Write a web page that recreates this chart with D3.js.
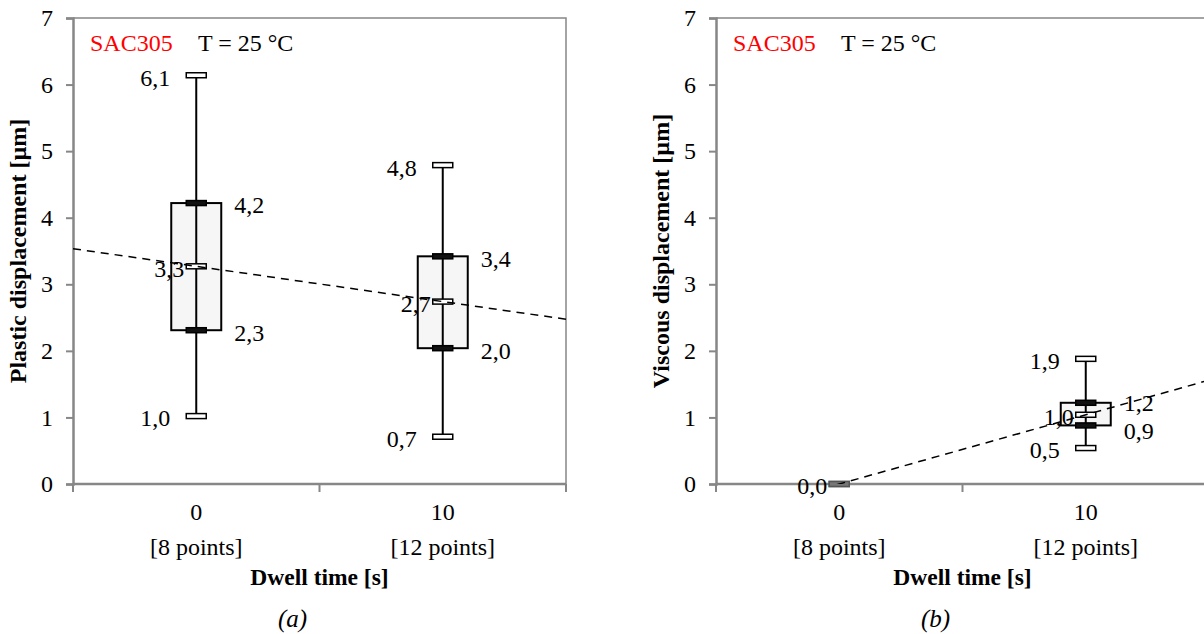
<!DOCTYPE html>
<html>
<head>
<meta charset="utf-8">
<script src="https://cdn.jsdelivr.net/npm/d3@7"></script>
<style>
  html, body { margin: 0; padding: 0; background: #fff; }
  svg { display: block; }
  text { font-family: "Liberation Serif", "Times New Roman", serif; }
</style>
</head>
<body>
<svg id="chart" width="1204" height="634"></svg>
<script>
// ---------- data ----------
const categories = ["0", "10"];               // dwell time [s]
const pointCounts = ["[8 points]", "[12 points]"];
const yTicks = [0, 1, 2, 3, 4, 5, 6, 7];

// (a) plastic displacement [µm]
const plasticMin    = [1.02, 0.71];
const plasticQ1     = [2.31, 2.04];
const plasticMedian = [3.27, 2.74];
const plasticQ3     = [4.22, 3.42];
const plasticMax    = [6.14, 4.79];

// (b) viscous displacement [µm]
const viscousMin    = [0.00, 0.54];
const viscousQ1     = [0.00, 0.88];
const viscousMedian = [0.00, 1.04];
const viscousQ3     = [0.00, 1.22];
const viscousMax    = [0.00, 1.88];

const panelTitles = ["Plastic displacement [µm]", "Viscous displacement [µm]"];
const panelCaptions = ["(a)", "(b)"];
const xTitle = "Dwell time [s]";
const materialLabel = "SAC305";
const tempLabel = "T = 25 °C";

// ---------- layout ----------
const svg = d3.select("#chart");
const plotW = 493, plotTop = 18, plotBottom = 484;
const panelX = [73, 716];
const axisGray = "#878787";
const fmt = v => d3.format(".1f")(v).replace(".", ",");

const panels = [
  { min: plasticMin, q1: plasticQ1, med: plasticMedian, q3: plasticQ3, max: plasticMax },
  { min: viscousMin, q1: viscousQ1, med: viscousMedian, q3: viscousQ3, max: viscousMax }
];

panels.forEach((p, pi) => {
  const x0 = panelX[pi];
  const x = d3.scaleBand().domain(categories).range([x0, x0 + plotW]).padding(0);
  const y = d3.scaleLinear().domain([0, 7]).range([plotBottom, plotTop]);
  const g = svg.append("g");
  const cid = "clip" + pi;

  svg.append("clipPath").attr("id", cid)
    .append("rect").attr("x", x0).attr("y", plotTop)
    .attr("width", plotW).attr("height", plotBottom - plotTop);

  // border (top, right)
  g.append("path")
    .attr("d", `M${x0},${plotTop}H${x0 + plotW}V${plotBottom}`)
    .attr("fill", "none").attr("stroke", axisGray).attr("stroke-width", 1.5);

  // y axis
  const yAxis = g.append("g").attr("transform", `translate(${x0},0)`)
    .call(d3.axisLeft(y).tickValues(yTicks).tickSize(7).tickPadding(13).tickFormat(d3.format("d")));
  yAxis.select(".domain").attr("stroke", axisGray).attr("stroke-width", 2.5);
  yAxis.selectAll(".tick line").attr("stroke", axisGray).attr("stroke-width", 2);
  yAxis.selectAll(".tick text").attr("font-size", 24).attr("fill", "#000")
    .attr("font-family", "Liberation Serif");

  // x axis line & ticks at category boundaries
  g.append("line").attr("x1", x0).attr("x2", x0 + plotW)
    .attr("y1", plotBottom).attr("y2", plotBottom)
    .attr("stroke", axisGray).attr("stroke-width", 2.5);
  const bounds = categories.map(c => x(c)).concat([x0 + plotW]);
  g.selectAll(".xt").data(bounds).join("line")
    .attr("x1", d => d).attr("x2", d => d)
    .attr("y1", plotBottom).attr("y2", plotBottom + 8)
    .attr("stroke", axisGray).attr("stroke-width", 2);

  const cx = c => x(c) + x.bandwidth() / 2;

  // x tick labels
  g.selectAll(".xl").data(categories).join("text")
    .attr("x", d => cx(d)).attr("y", 512).attr("dy", "0.35em")
    .attr("text-anchor", "middle").attr("font-size", 24).text(d => d);
  g.selectAll(".xl2").data(categories).join("text")
    .attr("x", d => cx(d)).attr("y", 547).attr("dy", "0.35em")
    .attr("text-anchor", "middle").attr("font-size", 24).text((d, i) => pointCounts[i]);

  // axis titles
  g.append("text").attr("x", x0 + plotW / 2).attr("y", 577).attr("dy", "0.35em")
    .attr("text-anchor", "middle").attr("font-size", 23.5).attr("font-weight", "bold").text(xTitle);
  g.append("text")
    .attr("transform", `translate(${x0 - 55},${(plotTop + plotBottom) / 2}) rotate(-90)`)
    .attr("dy", "0.35em").attr("text-anchor", "middle")
    .attr("font-size", 24).attr("font-weight", "bold").text(panelTitles[pi]);
  g.append("text").attr("x", x0 + plotW / 2 - 27).attr("y", 618).attr("dy", "0.35em")
    .attr("text-anchor", "middle").attr("font-size", 25).attr("font-style", "italic")
    .text(panelCaptions[pi]);

  // annotation
  g.append("text").attr("x", x0 + 17).attr("y", 43).attr("dy", "0.35em")
    .attr("font-size", 24).attr("fill", "#ff0000").text(materialLabel);
  g.append("text").attr("x", x0 + 125).attr("y", 43).attr("dy", "0.35em")
    .attr("font-size", 24).attr("fill", "#000").text(tempLabel);

  // trend line through medians (least squares on category index)
  const idx = categories.map((c, i) => i);
  const mx = d3.mean(idx), my = d3.mean(p.med);
  const slope = d3.sum(idx, i => (i - mx) * (p.med[i] - my)) / d3.sum(idx, i => (i - mx) ** 2);
  const icpt = my - slope * mx;
  const xi = d3.scaleLinear().domain([-0.5, categories.length - 0.5]).range([x0, x0 + plotW]);

  // boxes
  categories.forEach((c, i) => {
    const bx = cx(c), bw = 50, cw = 20;
    const bg = g.append("g");
    if (p.q3[i] > p.q1[i]) {
      bg.append("rect").attr("x", bx - bw / 2).attr("y", y(p.q3[i]))
        .attr("width", bw).attr("height", y(p.q1[i]) - y(p.q3[i]))
        .attr("fill", "#f6f6f6").attr("stroke", "#000").attr("stroke-width", 2);
    }
    bg.append("line").attr("x1", bx).attr("x2", bx)
      .attr("y1", y(p.max[i])).attr("y2", y(p.min[i]))
      .attr("stroke", "#000").attr("stroke-width", 2);
    const zero = p.max[i] === p.min[i];
    // quartile markers (dark)
    [p.q1[i], p.q3[i]].forEach(v => {
      bg.append("rect").attr("x", bx - cw / 2).attr("y", y(v) - 2.5)
        .attr("width", cw).attr("height", 5)
        .attr("fill", zero ? "#777" : "#111").attr("stroke", zero ? "#555" : "#000").attr("stroke-width", 1.5);
    });
    // min, max, median caps (white)
    if (!zero) {
      [p.min[i], p.max[i], p.med[i]].forEach(v => {
        bg.append("rect").attr("x", bx - cw / 2).attr("y", y(v) - 2.5)
          .attr("width", cw).attr("height", 5)
          .attr("fill", "#fff").attr("stroke", "#000").attr("stroke-width", 1.5);
      });
    }
    // labels
    const lab = (v, dx, anchor, shift = 0) => bg.append("text")
      .attr("x", bx + dx).attr("y", y(v) + 2 + shift).attr("dy", "0.35em")
      .attr("text-anchor", anchor).attr("font-size", 24).text(fmt(v));
    if (zero) {
      lab(p.med[i], -12, "end");
    } else {
      lab(p.max[i], -26, "end");
      lab(p.min[i], -26, "end");
      lab(p.med[i], -12, "end");
      // keep the two right-hand quartile labels from colliding
      const gap = y(p.q1[i]) - y(p.q3[i]);
      const push = gap < 28 ? (28 - gap) / 2 : 0;
      lab(p.q3[i], 38, "start", -push);
      lab(p.q1[i], 38, "start", push);
    }
  });

  g.append("line")
    .attr("clip-path", `url(#${cid})`)
    .attr("x1", xi(-0.5)).attr("y1", y(icpt + slope * -0.5))
    .attr("x2", xi(categories.length - 0.5)).attr("y2", y(icpt + slope * (categories.length - 0.5)))
    .attr("stroke", "#000").attr("stroke-width", 1.5).attr("stroke-dasharray", "8,6");
});
</script>
</body>
</html>
